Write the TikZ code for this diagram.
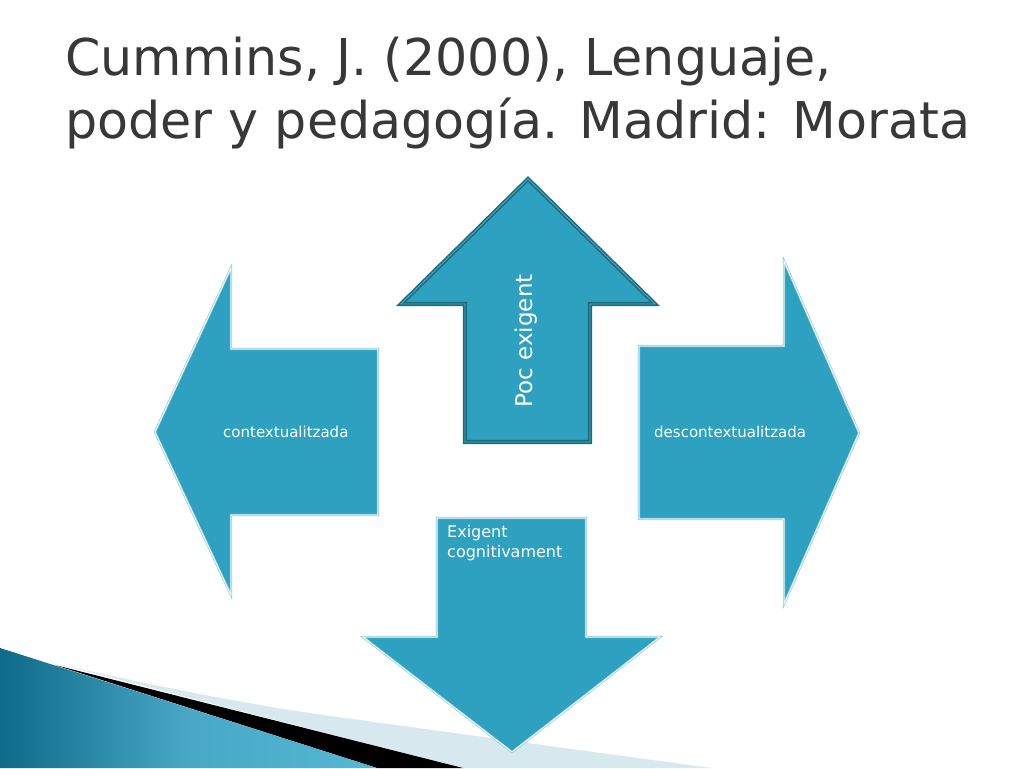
\documentclass[tikz,border=0pt]{standalone}
\usepackage{fontspec}
\setmainfont{DejaVu Sans}
\definecolor{arrfill}{HTML}{2EA1C0}
\definecolor{arrline}{HTML}{8CCBDC}
\definecolor{topline}{HTML}{1D6B7E}
\definecolor{topinner}{HTML}{45AAC6}
\definecolor{titlecol}{HTML}{383838}
\definecolor{bandlight}{HTML}{D7E8EF}
\definecolor{decodark}{HTML}{0E6B89}
\definecolor{decolight}{HTML}{56B7D5}
\tikzset{
  lightarrow/.style={fill=arrfill, draw=arrline, double=white, double distance=0.8pt, line width=0.7pt, line join=miter},
  darkarrow/.style={fill=arrfill, draw=topline, double=topinner, double distance=0.9pt, line width=1.6pt, line join=miter},
  lbl/.style={inner sep=0pt, text=white, font=\fontsize{15}{18}\selectfont},
  titletext/.style={inner sep=0pt, anchor=base west, text=titlecol, font=\fontsize{50.7}{60}\selectfont},
}
\begin{document}
\begin{tikzpicture}[x=1pt,y=-1pt]
\path[fill=white] (0,0) rectangle (1024,768);
\useasboundingbox (0,0) rectangle (1024,768);

% bottom-left decoration
\fill[bandlight] (58,664) .. controls (150,685) and (250,705) .. (330,716) -- (630,757) -- (712,768) -- (463,768) -- cycle;
\fill[black] (55,665) -- (463,768) -- (377,768) -- cycle;
\shade[left color=decodark, right color=decolight, middle color=decolight!80!decodark] (0,648) -- (377,768) -- (0,768) -- cycle;

% title
\node[titletext] (t1) at (65,75) {Cummins, J. (2000), Lenguaje,};
\node[titletext] (t2) at (65,138) {poder y pedagogía. Madrid: Morata};

% arrows
\draw[lightarrow] (155,432) -- (231,268) -- (231,349) -- (378,349) -- (378,515) -- (231,515) -- (231,595) -- cycle;
\draw[lightarrow] (639,346) -- (784,346) -- (784,261) -- (859,433) -- (784,604) -- (784,519) -- (639,519) -- cycle;
\draw[darkarrow] (528,179) -- (655,304) -- (590,304) -- (590,442) -- (465,442) -- (465,304) -- (401,304) -- cycle;
\draw[lightarrow] (437,518) -- (586,518) -- (586,637) -- (660,637) -- (512,752) -- (363,637) -- (437,637) -- cycle;

% labels
\node[lbl, anchor=base west] (lleft) at (223,437) {contextualitzada};
\node[lbl, anchor=base west] (lright) at (654,437) {descontextualitzada};
\node[lbl, font=\fontsize{23}{28}\selectfont, rotate=90] (ltop) at (526,341) {Poc exigent};
\node[lbl, anchor=base west, font=\fontsize{16}{19}\selectfont] (lbot1) at (447,537) {Exigent};
\node[lbl, anchor=base west, font=\fontsize{16}{19}\selectfont] (lbot2) at (447,557) {cognitivament};
\end{tikzpicture}
\end{document}
